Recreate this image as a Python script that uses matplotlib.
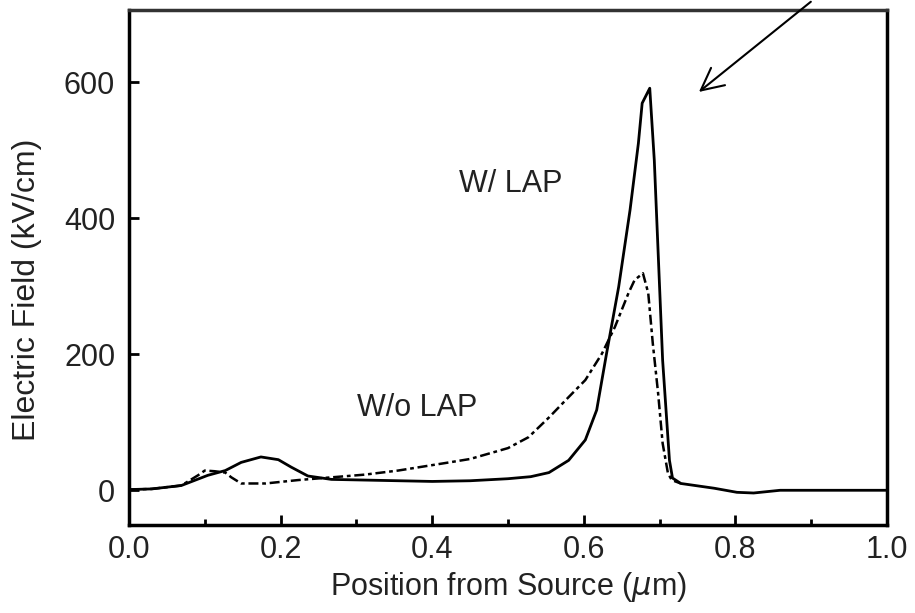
import matplotlib
matplotlib.use("Agg")
import matplotlib.pyplot as plt
from matplotlib.ticker import MultipleLocator

plt.rcParams['font.family'] = ['Liberation Sans', 'DejaVu Sans']
plt.rcParams['mathtext.fontset'] = 'dejavusans'

# W/ LAP (solid)
x_with = [0.0, 0.03, 0.069, 0.104, 0.127, 0.148, 0.174, 0.197, 0.214, 0.236, 0.267,
          0.311, 0.40, 0.45, 0.50, 0.53, 0.554, 0.580, 0.602, 0.617, 0.630, 0.646,
          0.661, 0.672, 0.677, 0.687, 0.693, 0.704, 0.713, 0.717, 0.728, 0.772,
          0.802, 0.824, 0.859, 1.0]
y_with = [1, 2, 7, 22, 29, 41, 49, 45, 34, 21, 16,
          15, 13, 14, 17, 20, 26, 44, 74, 118, 201, 299,
          412, 510, 569, 591, 485, 191, 44, 18, 10, 3,
          -3, -4, 0, 0]

# W/o LAP (dash-dot)
x_without = [0.0, 0.03, 0.069, 0.091, 0.100, 0.113, 0.127, 0.135, 0.148, 0.18, 0.223,
             0.267, 0.311, 0.355, 0.417, 0.45, 0.50, 0.527, 0.554, 0.580, 0.602,
             0.624, 0.641, 0.659, 0.667, 0.678, 0.685, 0.691, 0.698, 0.704, 0.711,
             0.716, 0.728]
y_without = [1, 2, 7, 22, 29, 28, 26, 19, 10, 10, 15,
             19, 23, 29, 40, 46, 62, 78, 107, 137, 162,
             201, 240, 290, 309, 319, 290, 216, 143, 69, 25,
             15, 10]

x_ticks = [0.0, 0.2, 0.4, 0.6, 0.8, 1.0]
x_ticklabels = ['0.0', '0.2', '0.4', '0.6', '0.8', '1.0']
y_ticks = [0, 200, 400, 600]
y_ticklabels = ['0', '200', '400', '600']

fig = plt.figure(figsize=(9.15, 6.13), dpi=100)
ax = fig.add_axes([0.141, 0.1436, 0.8284, 0.8401])

ax.plot(x_with, y_with, color='black', lw=2.0, solid_joinstyle='round')
ax.plot(x_without, y_without, color='black', lw=1.8,
        linestyle=(0, (4, 1.5, 1.5, 1.5)))

ax.set_xlim(0, 1)
ax.set_ylim(-51, 706)

ax.set_xticks(x_ticks)
ax.set_xticklabels(x_ticklabels)
ax.set_yticks(y_ticks)
ax.set_yticklabels(y_ticklabels)
ax.xaxis.set_minor_locator(MultipleLocator(0.1))

ax.tick_params(axis='both', which='major', direction='in', length=7, width=2,
               labelsize=22, colors='black', labelcolor='#222222')
ax.tick_params(axis='x', which='major', pad=7)
ax.tick_params(axis='y', which='major', pad=10)
ax.tick_params(axis='x', which='minor', direction='in', length=4, width=2)

for side in ['left', 'bottom', 'right', 'top']:
    ax.spines[side].set_linewidth(2.5)
ax.spines['top'].set_color('#333333')

ax.set_xlabel(r'Position from Source ($\mu$m)', fontsize=22, color='#222222', labelpad=4)
ax.set_ylabel('Electric Field (kV/cm)', fontsize=23, color='#222222')
ax.yaxis.set_label_coords(-0.115, 0.456)

ax.text(0.503, 450, 'W/ LAP', fontsize=22, ha='center', va='center', color='#222222')
ax.text(0.380, 121, 'W/o LAP', fontsize=22, ha='center', va='center', color='#222222')

ax.annotate('', xy=(0.749, 583), xycoords='data',
            xytext=(813 / 915, 1.0), textcoords='figure fraction',
            arrowprops=dict(arrowstyle='->,head_length=0.8,head_width=0.4',
                            color='black', lw=1.5, mutation_scale=20),
            annotation_clip=False)

fig.savefig('out.png', dpi=100)
